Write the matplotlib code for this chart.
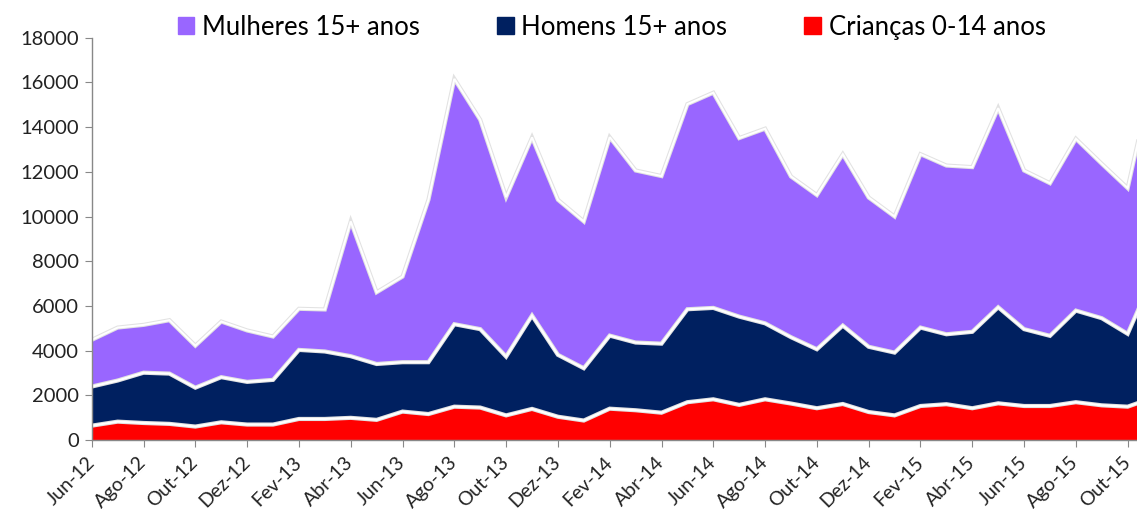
import numpy as np
import matplotlib
matplotlib.use("Agg")
import matplotlib.pyplot as plt
import matplotlib.patheffects as pe
from matplotlib.patches import Patch

plt.rcParams["font.family"] = ["Lato", "DejaVu Sans"]

# Jun-12 .. Nov-15, one value per month
months = ["Jun-12", "Jul-12", "Ago-12", "Set-12", "Out-12", "Nov-12", "Dez-12",
          "Jan-13", "Fev-13", "Mar-13", "Abr-13", "Mai-13", "Jun-13", "Jul-13",
          "Ago-13", "Set-13", "Out-13", "Nov-13", "Dez-13", "Jan-14", "Fev-14",
          "Mar-14", "Abr-14", "Mai-14", "Jun-14", "Jul-14", "Ago-14", "Set-14",
          "Out-14", "Nov-14", "Dez-14", "Jan-15", "Fev-15", "Mar-15", "Abr-15",
          "Mai-15", "Jun-15", "Jul-15", "Ago-15", "Set-15", "Out-15", "Nov-15"]

criancas = [640, 820, 760, 720, 600, 790, 690, 690, 940, 940, 990, 900, 1270, 1160,
            1490, 1450, 1100, 1390, 1040, 870, 1400, 1330, 1220, 1690, 1820, 1570,
            1820, 1630, 1420, 1610, 1250, 1100, 1520, 1600, 1420, 1640, 1520, 1520,
            1690, 1550, 1490, 1900]
homens = [1750, 1840, 2250, 2250, 1740, 2020, 1910, 2000, 3090, 3020, 2760, 2500,
          2210, 2320, 3690, 3510, 2630, 4180, 2770, 2340, 3270, 3030, 3090, 4160,
          4090, 3950, 3400, 2970, 2640, 3510, 2920, 2810, 3510, 3130, 3420, 4300,
          3440, 3140, 4100, 3900, 3260, 5500]
mulheres = [2090, 2370, 2140, 2390, 1880, 2490, 2300, 1940, 1840, 1880, 6030, 3210,
            3830, 7270, 10980, 9370, 7140, 7970, 6940, 6570, 8880, 7700, 7500, 9180,
            9630, 7990, 8710, 7190, 6900, 7670, 6680, 6090, 7760, 7550, 7370, 8910,
            7100, 6830, 7690, 6910, 6520, 9100]

labels = ["Crianças 0-14 anos", "Homens 15+ anos", "Mulheres 15+ anos"]
colors = ["#FF0000", "#002060", "#9966FF"]

x = np.arange(len(months))

fig = plt.figure(figsize=(11.37, 5.17), dpi=100)
ax = fig.add_axes([0.0807, 0.149, 0.9193, 0.778])

ax.stackplot(x, criancas, homens, mulheres, colors=colors, linewidth=0)

# white separators with a soft grey halo
cum = np.cumsum(np.vstack([criancas, homens, mulheres]), axis=0)
for row in cum:
    ax.plot(x, row, color="white", lw=1.5, solid_joinstyle="miter",
            path_effects=[pe.withStroke(linewidth=3.0, foreground="#e2e2e2")])

ax.set_xlim(0, 40.36)
ax.set_ylim(0, 18000)
ax.set_yticks(np.arange(0, 18001, 2000))
ax.set_xticks(x[::2])
ax.set_xticklabels(months[::2], rotation=45, ha="right", va="center",
                   rotation_mode="anchor")

for s in ["top", "right"]:
    ax.spines[s].set_visible(False)
for s in ["left", "bottom"]:
    ax.spines[s].set_color("#888888")
    ax.spines[s].set_linewidth(1.0)
ax.tick_params(axis="both", colors="#888888", labelcolor="#222222",
               labelsize=14.5, length=5, direction="out")
ax.tick_params(axis="y", pad=4)
ax.tick_params(axis="x", pad=9, labelsize=14)

handles = [Patch(color=colors[2]), Patch(color=colors[1]), Patch(color=colors[0])]
fig.legend(handles, [labels[2], labels[1], labels[0]], loc="center",
           bbox_to_anchor=(0.538, 0.947), ncol=3, frameon=False, fontsize=18.5,
           handlelength=0.65, handleheight=0.65, handletextpad=0.3,
           columnspacing=3.0)

fig.savefig("out.png", dpi=100)
